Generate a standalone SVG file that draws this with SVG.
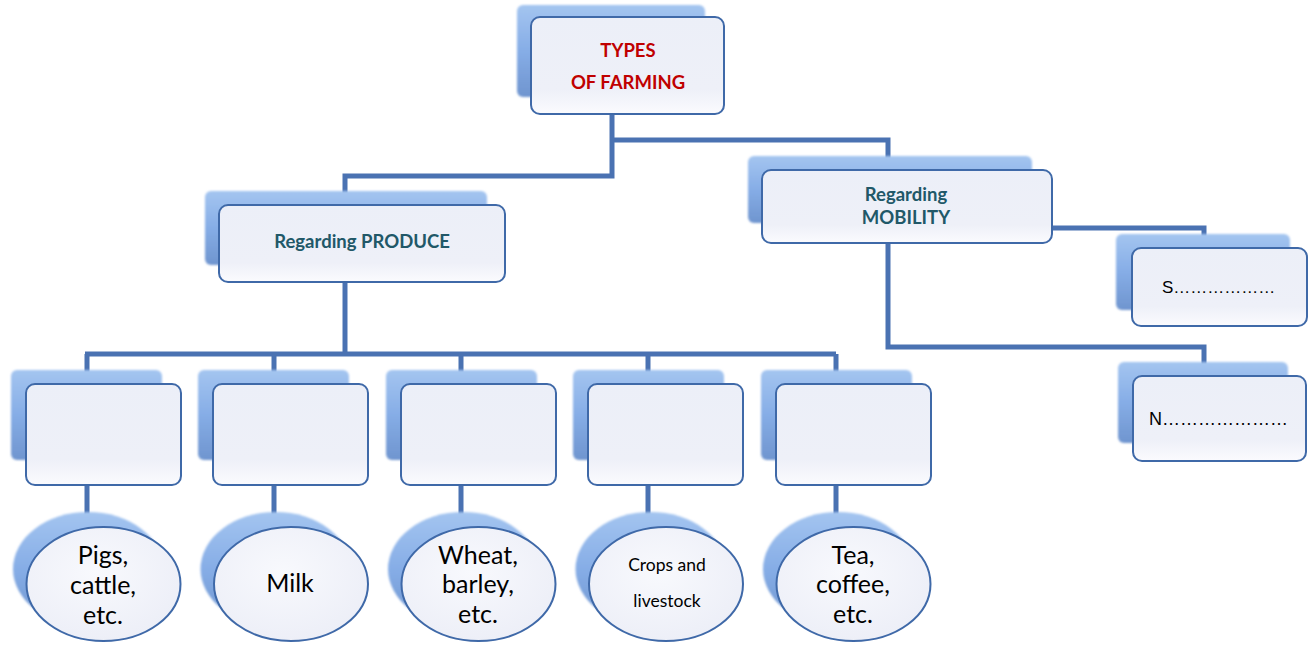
<svg xmlns="http://www.w3.org/2000/svg" width="1311" height="649" viewBox="0 0 1311 649">
<defs>
<linearGradient id="shG" x1="0" y1="0" x2="0" y2="1">
<stop offset="0" stop-color="#a4c5f0"/>
<stop offset="0.5" stop-color="#86ade6"/>
<stop offset="1" stop-color="#6f95cf"/>
</linearGradient>
<linearGradient id="frG" x1="0" y1="0" x2="0" y2="1">
<stop offset="0" stop-color="#eceff8"/>
<stop offset="0.75" stop-color="#eef0f8"/>
<stop offset="1" stop-color="#fbfbfe"/>
</linearGradient>
<radialGradient id="elG" cx="0.45" cy="0.4" r="0.65">
<stop offset="0" stop-color="#f8f9fd"/>
<stop offset="1" stop-color="#eceef7"/>
</radialGradient>
<filter id="soft" x="-10%" y="-10%" width="120%" height="120%">
<feGaussianBlur stdDeviation="1.2"/>
</filter>
</defs>
<style>
.sh{fill:url(#shG);filter:url(#soft)}
.fr{fill:url(#frG);stroke:#3f69a8;stroke-width:2}
.el{fill:url(#elG);stroke:#3f69a8;stroke-width:2}
.con{fill:none;stroke:#4a72b2;stroke-width:5}
.red{font-family:Lato,"Liberation Sans",sans-serif;font-weight:bold;font-size:18.5px;fill:#c00000;text-anchor:middle}
.teal{font-family:Lato,"Liberation Sans",sans-serif;font-weight:bold;font-size:18.5px;fill:#215868;text-anchor:middle}
.blk{font-family:"Liberation Sans",sans-serif;font-size:17px;fill:#000}
.big{font-family:Lato,"Liberation Sans",sans-serif;font-size:25px;fill:#000;text-anchor:middle}
.med{font-family:Lato,"Liberation Sans",sans-serif;font-size:17.5px;fill:#000;text-anchor:middle}
</style>

<g id="connectors">
<path class="con" d="M612,114 V176 H345 V205"/>
<path class="con" d="M612,140 H888 V170"/>
<path class="con" d="M1052,228 H1204 V248"/>
<path class="con" d="M888,243 V347 H1204 V376"/>
<path class="con" d="M345,282 V354"/>
<path class="con" d="M85,354 H836"/>
<path class="con" d="M87,354 V384 M274,354 V384 M461,354 V384 M648,354 V384 M836,354 V384"/>
<path class="con" d="M87,485 V522 M274,485 V522 M461,485 V522 M648,485 V522 M836,485 V522"/>
</g>

<g id="types">
<rect class="sh" x="517" y="5" width="188" height="92" rx="6"/>
<rect class="fr" x="531" y="17" width="193" height="97" rx="9"/>
<text class="red" x="628" y="57">TYPES</text>
<text class="red" x="628" y="89">OF FARMING</text>
</g>

<g id="produce">
<rect class="sh" x="205" y="191" width="282" height="74" rx="6"/>
<rect class="fr" x="219" y="205" width="286" height="77" rx="9"/>
<text class="teal" x="362" y="248">Regarding PRODUCE</text>
</g>

<g id="mobility">
<rect class="sh" x="748" y="156" width="284" height="67" rx="6"/>
<rect class="fr" x="762" y="170" width="290" height="73" rx="9"/>
<text class="teal" x="906" y="201">Regarding</text>
<text class="teal" x="906" y="224">MOBILITY</text>
</g>

<g id="s-box">
<rect class="sh" x="1116" y="234" width="174" height="76" rx="6"/>
<rect class="fr" x="1132" y="248" width="175" height="78" rx="9"/>
<text class="blk" x="1162" y="293">S………………</text>
</g>

<g id="n-box">
<rect class="sh" x="1118" y="362" width="170" height="81" rx="6"/>
<rect class="fr" x="1133" y="376" width="173" height="85" rx="9"/>
<text class="blk" x="1149" y="425" style="font-size:18px">N…………………</text>
</g>

<g id="box1">
<rect class="sh" x="11" y="370" width="151" height="90" rx="6"/>
<rect class="fr" x="26" y="384" width="155" height="101" rx="9"/>
</g>
<g id="box2">
<rect class="sh" x="198" y="370" width="151" height="90" rx="6"/>
<rect class="fr" x="213" y="384" width="155" height="101" rx="9"/>
</g>
<g id="box3">
<rect class="sh" x="386" y="370" width="151" height="90" rx="6"/>
<rect class="fr" x="401" y="384" width="155" height="101" rx="9"/>
</g>
<g id="box4">
<rect class="sh" x="573" y="370" width="151" height="90" rx="6"/>
<rect class="fr" x="588" y="384" width="155" height="101" rx="9"/>
</g>
<g id="box5">
<rect class="sh" x="761" y="370" width="151" height="90" rx="6"/>
<rect class="fr" x="776" y="384" width="155" height="101" rx="9"/>
</g>

<g id="oval1">
<ellipse class="sh" cx="88" cy="569" rx="75" ry="57"/>
<ellipse class="el" cx="103.5" cy="584" rx="77" ry="57"/>
<text class="big" x="103" y="564">Pigs,</text>
<text class="big" x="103" y="594">cattle,</text>
<text class="big" x="103" y="624">etc.</text>
</g>
<g id="oval2">
<ellipse class="sh" cx="275.5" cy="569" rx="75" ry="57"/>
<ellipse class="el" cx="291" cy="584" rx="77" ry="57"/>
<text class="big" x="290" y="592">Milk</text>
</g>
<g id="oval3">
<ellipse class="sh" cx="463" cy="569" rx="75" ry="57"/>
<ellipse class="el" cx="478.5" cy="584" rx="77" ry="57"/>
<text class="big" x="478" y="564">Wheat,</text>
<text class="big" x="478" y="593">barley,</text>
<text class="big" x="478" y="623">etc.</text>
</g>
<g id="oval4">
<ellipse class="sh" cx="650.5" cy="569" rx="75" ry="57"/>
<ellipse class="el" cx="666" cy="584" rx="77" ry="57"/>
<text class="med" x="667" y="571">Crops and</text>
<text class="med" x="667" y="607">livestock</text>
</g>
<g id="oval5">
<ellipse class="sh" cx="838" cy="569" rx="75" ry="57"/>
<ellipse class="el" cx="853.5" cy="584" rx="77" ry="57"/>
<text class="big" x="853" y="564">Tea,</text>
<text class="big" x="853" y="593">coffee,</text>
<text class="big" x="853" y="623">etc.</text>
</g>
</svg>
